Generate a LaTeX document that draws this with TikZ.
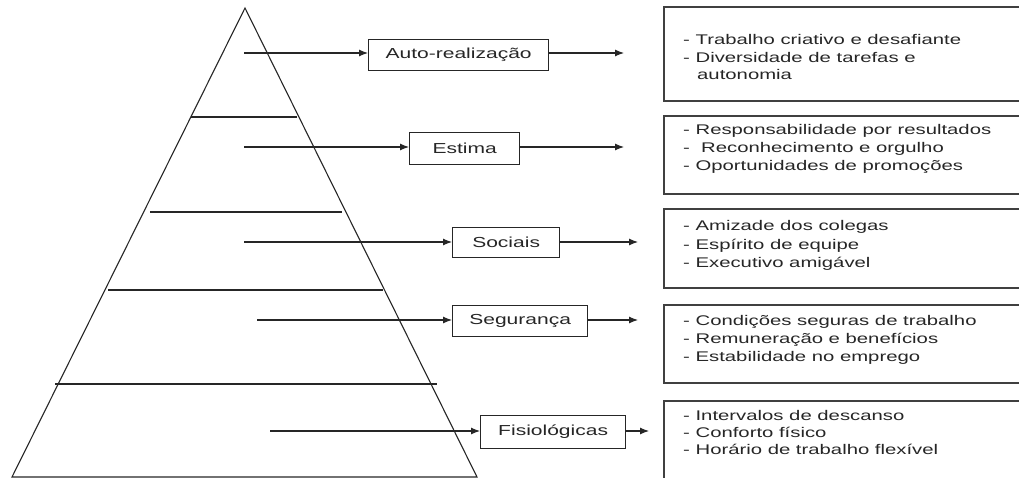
\documentclass[tikz,border=0pt]{standalone}
\usepackage{fontspec}
\setmainfont{Liberation Sans}
\newfontfamily\wide[FakeStretch=1.45]{Liberation Sans}
\usetikzlibrary{arrows.meta}
\begin{document}
\begin{tikzpicture}[x=1pt,y=-1pt,
  ln/.style={draw=black!85,line width=1.1pt},
  lab/.style={draw=black!85,line width=1.3pt,inner sep=0pt,anchor=north west,font=\wide\fontsize{14.5}{16}\selectfont,text=black!85},
  lst/.style={anchor=base west,inner sep=0pt,font=\wide\fontsize{14}{16}\selectfont,text=black!85},
  rbox/.style={draw=black!75,line width=1.5pt},
  arr/.style={draw=black!85,line width=1.1pt,-{Latex[length=9pt,width=7pt]}}]
\useasboundingbox (0,0) rectangle (1019,478);
% pyramid
\draw[ln] (12,477) -- (245,8) -- (477,477) -- cycle;
\draw[ln] (191,117) -- (297,117);
\draw[ln] (150,212) -- (342,212);
\draw[ln] (108,290) -- (383,290);
\draw[ln] (55,384) -- (437,384);
% label boxes
\node[lab,minimum width=180pt,minimum height=31pt] (l1) at (368,39) {Auto-realização};
\node[lab,minimum width=110pt,minimum height=32pt] (l2) at (409,132) {Estima};
\node[lab,minimum width=107pt,minimum height=30pt] (l3) at (452,227) {Sociais};
\node[lab,minimum width=135pt,minimum height=31pt] (l4) at (452,305) {Segurança};
\node[lab,minimum width=145pt,minimum height=33pt] (l5) at (480,415) {Fisiológicas};
% arrow tails and tips
\coordinate (s1) at (244,53);
\coordinate (s2) at (244,147);
\coordinate (s3) at (244,242);
\coordinate (s4) at (257,320);
\coordinate (s5) at (270,431);
\coordinate (e1) at (624,53);
\coordinate (e2) at (624,147);
\coordinate (e3) at (638,242);
\coordinate (e4) at (638,320);
\coordinate (e5) at (649,431);
\draw[arr] (s1) -- (l1.west |- s1);
\draw[arr] (s2) -- (l2.west |- s2);
\draw[arr] (s3) -- (l3.west |- s3);
\draw[arr] (s4) -- (l4.west |- s4);
\draw[arr] (s5) -- (l5.west |- s5);
\draw[arr] (l1.east |- e1) -- (e1);
\draw[arr] (l2.east |- e2) -- (e2);
\draw[arr] (l3.east |- e3) -- (e3);
\draw[arr] (l4.east |- e4) -- (e4);
\draw[arr] (l5.east |- e5) -- (e5);
% right boxes (cut by the right and bottom edges)
\draw[rbox] (1030,7) -- (664,7) -- (664,101) -- (1030,101);
\draw[rbox] (1030,116) -- (664,116) -- (664,194) -- (1030,194);
\draw[rbox] (1030,209) -- (664,209) -- (664,288) -- (1030,288);
\draw[rbox] (1030,305) -- (664,305) -- (664,383) -- (1030,383);
\draw[rbox] (1030,401) -- (664,401) -- (664,485);
% texts
\node[lst] (t11) at (683,45) {- Trabalho criativo e desafiante};
\node[lst] (t12) at (683,62.5) {- Diversidade de tarefas e};
\node[lst] (t13) at (697,80) {autonomia};
\node[lst] (t21) at (683,135) {- Responsabilidade por resultados};
\node[lst] (t22) at (683,153) {-\ \ Reconhecimento e orgulho};
\node[lst] (t23) at (683,171) {- Oportunidades de promoções};
\node[lst] (t31) at (683,231) {- Amizade dos colegas};
\node[lst] (t32) at (683,249) {- Espírito de equipe};
\node[lst] (t33) at (683,267) {- Executivo amigável};
\node[lst] (t41) at (683,325) {- Condições seguras de trabalho};
\node[lst] (t42) at (683,343) {- Remuneração e benefícios};
\node[lst] (t43) at (683,361) {- Estabilidade no emprego};
\node[lst] (t51) at (683,420) {- Intervalos de descanso};
\node[lst] (t52) at (683,437) {- Conforto físico};
\node[lst] (t53) at (683,454) {- Horário de trabalho flexível};
\end{tikzpicture}
\end{document}
